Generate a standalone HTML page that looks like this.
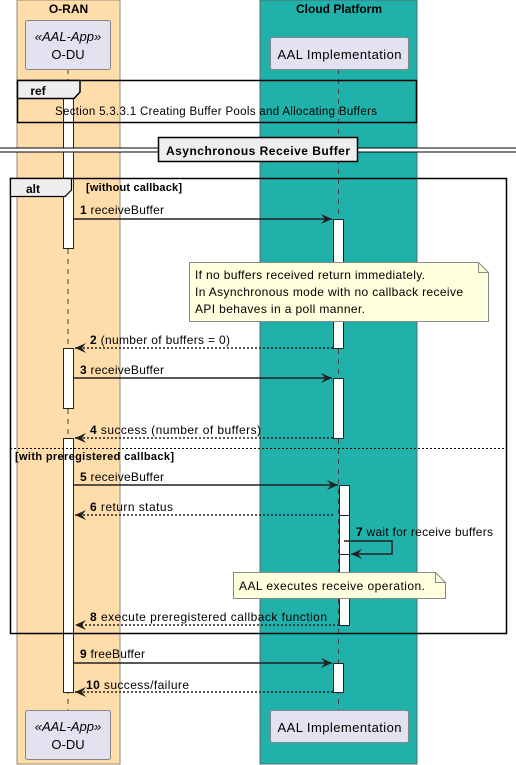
<!DOCTYPE html>
<html><head><meta charset="utf-8"><style>
html,body{margin:0;padding:0;background:#fff;}
svg{display:block;font-family:"Liberation Sans",Arial,sans-serif;}
</style></head><body>
<svg width="516" height="765" viewBox="0 0 516 765" xmlns="http://www.w3.org/2000/svg">
<defs>
<marker id="ah" markerWidth="12" markerHeight="10" refX="11" refY="5" orient="auto" markerUnits="userSpaceOnUse">
<path d="M0,0 L11,5 L0,10 L4,5 Z" fill="#222"/>
</marker>
</defs>
<rect x="17" y="0" width="103" height="764" fill="#FEDDAB" stroke="#9a8a70" stroke-width="1"/>
<rect x="260" y="0" width="157" height="764" fill="#20B2AA" stroke="#5a6a68" stroke-width="1"/>
<text x="68.5" y="13" font-size="12" font-weight="bold" text-anchor="middle">O-RAN</text>
<text x="339" y="13" font-size="12" font-weight="bold" text-anchor="middle">Cloud Platform</text>
<line x1="68" y1="69" x2="68" y2="710" stroke="#444" stroke-dasharray="5,5"/>
<line x1="338.5" y1="69" x2="338.5" y2="710" stroke="#444" stroke-dasharray="5,5"/>
<rect x="25.5" y="20.5" width="85" height="49" rx="2" fill="#E2E2F0" stroke="#888"/>
<text x="68" y="41" font-size="13" font-style="italic" text-anchor="middle">«AAL-App»</text>
<text x="68" y="59" font-size="13" text-anchor="middle">O-DU</text>
<rect x="270.5" y="37.5" width="138" height="32" rx="2" fill="#E2E2F0" stroke="#888"/>
<text x="339.5" y="59" font-size="13" text-anchor="middle" textLength="124" lengthAdjust="spacing">AAL Implementation</text>
<rect x="25.5" y="710.5" width="85" height="49" rx="2" fill="#E2E2F0" stroke="#888"/>
<text x="68" y="731" font-size="13" font-style="italic" text-anchor="middle">«AAL-App»</text>
<text x="68" y="749" font-size="13" text-anchor="middle">O-DU</text>
<rect x="270.5" y="710.5" width="138" height="32" rx="2" fill="#E2E2F0" stroke="#888"/>
<text x="339.5" y="732" font-size="13" text-anchor="middle" textLength="124" lengthAdjust="spacing">AAL Implementation</text>
<rect x="63.5" y="98.5" width="10" height="150" fill="#fff" stroke="#222"/>
<rect x="63.5" y="348.5" width="10" height="60" fill="#fff" stroke="#222"/>
<rect x="63.5" y="438.5" width="10" height="254" fill="#fff" stroke="#222"/>
<rect x="333.5" y="219.5" width="10" height="129" fill="#fff" stroke="#222"/>
<rect x="333.5" y="378.5" width="10" height="60" fill="#fff" stroke="#222"/>
<rect x="339.5" y="485.5" width="10" height="140" fill="#fff" stroke="#222"/>
<line x1="339.5" y1="515.5" x2="349.5" y2="515.5" stroke="#222"/>
<line x1="339.5" y1="554.5" x2="349.5" y2="554.5" stroke="#222"/>
<rect x="333.5" y="663.5" width="10" height="29" fill="#fff" stroke="#222"/>
<rect x="17.5" y="80.5" width="399" height="42" fill="none" stroke="#000" stroke-width="1.5"/>
<path d="M17.5,80.5 H80 V92 L74,98.5 H17.5 Z" fill="#EEE" stroke="#000" stroke-width="1.5"/>
<text x="38" y="95" font-size="12" font-weight="bold" text-anchor="middle">ref</text>
<text x="55" y="115" font-size="11.5" textLength="322" lengthAdjust="spacing">Section 5.3.3.1 Creating Buffer Pools and Allocating Buffers</text>
<rect x="0" y="148" width="516" height="4" fill="#fff"/>
<line x1="0" y1="148" x2="516" y2="148" stroke="#000"/>
<line x1="0" y1="152" x2="516" y2="152" stroke="#000"/>
<rect x="158.5" y="137.5" width="199" height="24" fill="#EEE" stroke="#000" stroke-width="1.5"/>
<text x="258" y="155" font-size="12" font-weight="bold" text-anchor="middle" textLength="184" lengthAdjust="spacing">Asynchronous Receive Buffer</text>
<rect x="10.5" y="178.5" width="496" height="455" fill="none" stroke="#000" stroke-width="1.5"/>
<path d="M10.5,178.5 H71.5 V190 L65,196.5 H10.5 Z" fill="#EEE" stroke="#000" stroke-width="1.2"/>
<text x="33" y="193" font-size="12" font-weight="bold" text-anchor="middle">alt</text>
<text x="86" y="191" font-size="11" font-weight="bold" textLength="96" lengthAdjust="spacing">[without callback]</text>
<line x1="10" y1="448.5" x2="506" y2="448.5" stroke="#000" stroke-dasharray="2,2"/>
<text x="15" y="460" font-size="11" font-weight="bold" textLength="159" lengthAdjust="spacing">[with preregistered callback]</text>
<g font-size="12">
<line x1="73" y1="219" x2="332" y2="219" stroke="#222" stroke-width="1.5" marker-end="url(#ah)"/>
<text x="80" y="214" textLength="84" lengthAdjust="spacing"><tspan font-weight="bold">1</tspan> receiveBuffer</text>
<line x1="333" y1="348" x2="75" y2="348" stroke="#222" stroke-width="1.5" stroke-dasharray="2,2" marker-end="url(#ah)"/>
<text x="90" y="344" textLength="140" lengthAdjust="spacing"><tspan font-weight="bold">2</tspan> (number of buffers = 0)</text>
<line x1="73" y1="378" x2="332" y2="378" stroke="#222" stroke-width="1.5" marker-end="url(#ah)"/>
<text x="80" y="374" textLength="84" lengthAdjust="spacing"><tspan font-weight="bold">3</tspan> receiveBuffer</text>
<line x1="333" y1="438" x2="75" y2="438" stroke="#222" stroke-width="1.5" stroke-dasharray="2,2" marker-end="url(#ah)"/>
<text x="90" y="434" textLength="171" lengthAdjust="spacing"><tspan font-weight="bold">4</tspan> success (number of buffers)</text>
<line x1="73" y1="485" x2="338" y2="485" stroke="#222" stroke-width="1.5" marker-end="url(#ah)"/>
<text x="80" y="481" textLength="84" lengthAdjust="spacing"><tspan font-weight="bold">5</tspan> receiveBuffer</text>
<line x1="333" y1="515" x2="75" y2="515" stroke="#222" stroke-width="1.5" stroke-dasharray="2,2" marker-end="url(#ah)"/>
<text x="90" y="511" textLength="83" lengthAdjust="spacing"><tspan font-weight="bold">6</tspan> return status</text>
<path d="M344,541 H392 V554 H351" fill="none" stroke="#222" stroke-width="1.5" marker-end="url(#ah)"/>
<text x="356" y="536" textLength="137" lengthAdjust="spacing"><tspan font-weight="bold">7</tspan> wait for receive buffers</text>
<line x1="339" y1="625" x2="75" y2="625" stroke="#222" stroke-width="1.5" stroke-dasharray="2,2" marker-end="url(#ah)"/>
<text x="90" y="621" textLength="237" lengthAdjust="spacing"><tspan font-weight="bold">8</tspan> execute preregistered callback function</text>
<line x1="73" y1="663" x2="332" y2="663" stroke="#222" stroke-width="1.5" marker-end="url(#ah)"/>
<text x="80" y="658" textLength="65" lengthAdjust="spacing"><tspan font-weight="bold">9</tspan> freeBuffer</text>
<line x1="333" y1="692" x2="75" y2="692" stroke="#222" stroke-width="1.5" stroke-dasharray="2,2" marker-end="url(#ah)"/>
<text x="86" y="689" textLength="103" lengthAdjust="spacing"><tspan font-weight="bold">10</tspan> success/failure</text>
</g>
<path d="M189.5,262.5 H478.5 L488.5,272.5 V321.5 H189.5 Z" fill="#FEFFDD" stroke="#888"/>
<path d="M478.5,262.5 V272.5 H488.5" fill="none" stroke="#888"/>
<text font-size="12" x="195" y="279" textLength="230" lengthAdjust="spacing">If no buffers received return immediately.</text>
<text font-size="12" x="195" y="296" textLength="268" lengthAdjust="spacing">In Asynchronous mode with no callback receive</text>
<text font-size="12" x="195" y="313" textLength="170" lengthAdjust="spacing">API behaves in a poll manner.</text>
<path d="M233.5,572.5 H435.5 L445.5,582.5 V598.5 H233.5 Z" fill="#FEFFDD" stroke="#888"/>
<path d="M435.5,572.5 V582.5 H445.5" fill="none" stroke="#888"/>
<text x="239" y="590" font-size="12" textLength="186" lengthAdjust="spacing">AAL executes receive operation.</text>
</svg>
</body></html>
